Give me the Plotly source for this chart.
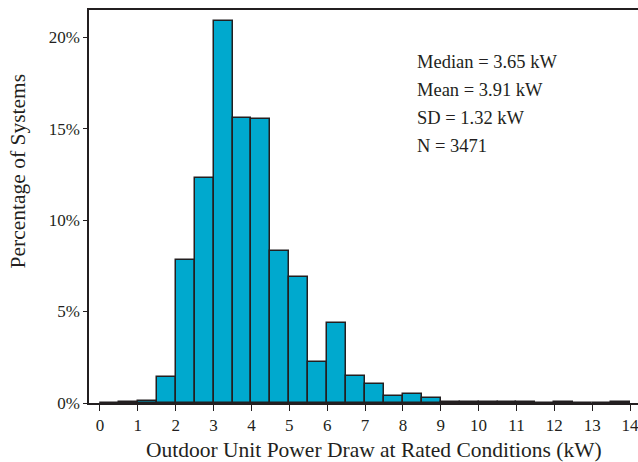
import plotly.graph_objects as go

bin_left = [0.0, 0.5, 1.0, 1.5, 2.0, 2.5, 3.0, 3.5, 4.0, 4.5, 5.0, 5.5, 6.0, 6.5,
            7.0, 7.5, 8.0, 8.5, 9.0, 9.5, 10.0, 10.5, 11.0, 11.5, 12.0, 12.5, 13.0, 13.5]
pct = [0.0, 0.03, 0.12, 1.4, 7.8, 12.3, 20.9, 15.6, 15.5, 8.3, 6.9, 2.25, 4.4, 1.5,
       1.05, 0.4, 0.5, 0.3, 0.08, 0.08, 0.08, 0.08, 0.08, 0.0, 0.08, 0.0, 0.0, 0.08]
bin_width = 0.5
stats_lines = ["Median = 3.65 kW", "Mean = 3.91 kW", "SD = 1.32 kW", "N = 3471"]
x_ticks = list(range(0, 15))
y_ticks = [0, 5, 10, 15, 20]
x_title = "Outdoor Unit Power Draw at Rated Conditions (kW)"
y_title = "Percentage of Systems"

FONT = "Liberation Serif, Times New Roman, serif"
INK = "#231f20"

fig = go.Figure(go.Bar(
    x=bin_left, y=pct, width=bin_width, offset=0,
    marker=dict(color="#00a9ce", line=dict(color=INK, width=1.5)),
    hoverinfo="skip",
))

fig.update_layout(
    width=638, height=462,
    margin=dict(l=89, r=0, t=10, b=59),
    paper_bgcolor="white", plot_bgcolor="white",
    font=dict(family=FONT, size=17, color=INK),
    showlegend=False,
    bargap=0,
)
fig.update_xaxes(
    range=[-0.29, 14.21], tickvals=x_ticks, ticks="outside", ticklen=6,
    tickwidth=1.2, tickcolor=INK, showline=True, linecolor=INK, linewidth=1.5,
    mirror=True, showgrid=False, zeroline=False, automargin=False,
    ticklabeloverflow="allow", tickfont=dict(size=17),
)
fig.update_yaxes(
    range=[0, 21.48], tickvals=y_ticks, ticktext=[f"{v}%" for v in y_ticks],
    ticks="outside", ticklen=4, tickwidth=1.2, tickcolor=INK,
    showline=True, linecolor=INK, linewidth=1.5, mirror=False,
    showgrid=False, zeroline=False, automargin=False,
    tickfont=dict(size=17),
)

fig.add_annotation(text=x_title, xref="paper", yref="paper", x=0.52, y=0,
                   xanchor="center", yanchor="middle", yshift=-47,
                   showarrow=False, font=dict(size=21.5, family=FONT, color=INK))
fig.add_annotation(text=y_title, xref="paper", yref="paper", x=0, y=0.589,
                   xanchor="center", yanchor="middle", xshift=-71, textangle=-90,
                   showarrow=False, font=dict(size=21.5, family=FONT, color=INK))

y_pos = [0.868, 0.796, 0.725, 0.654]
for txt, yp in zip(stats_lines, y_pos):
    fig.add_annotation(text=txt, xref="paper", yref="paper", x=0.594, y=yp,
                       xanchor="left", yanchor="middle", showarrow=False,
                       font=dict(size=18.5, family=FONT, color=INK))

fig.write_html("out.html", config={"displayModeBar": False},
               post_script="document.body.style.margin='0px';document.body.style.overflow='hidden';")
